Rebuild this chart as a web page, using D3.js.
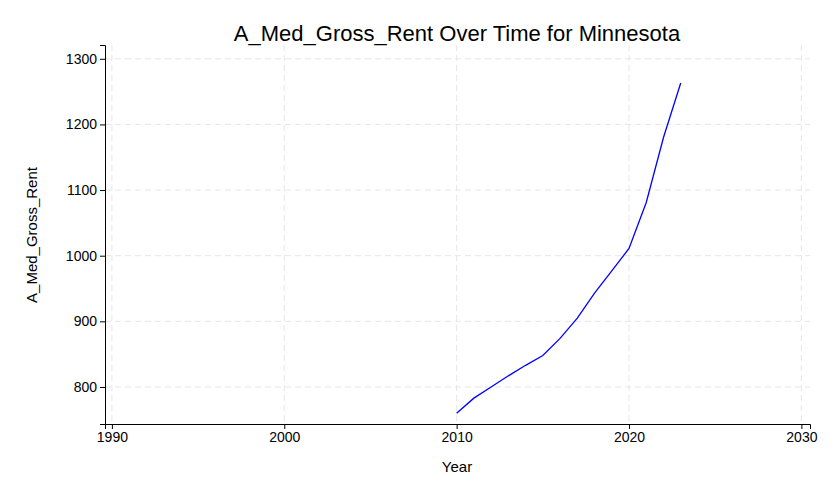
<!DOCTYPE html>
<html><head><meta charset="utf-8">
<script src="https://cdn.jsdelivr.net/npm/d3@7"></script>
<style>body{margin:0;background:#fff}text{font-family:Arial,"Liberation Sans",sans-serif}</style>
</head><body>
<svg id="c" width="831" height="498"></svg>
<script>
const years=[2010,2011,2012,2013,2014,2015,2016,2017,2018,2019,2020,2021,2022,2023];
const rent=[760,783,800,817,833,848,874,905,943,977,1011,1081,1180,1263];
const xTicks=[1990,2000,2010,2020,2030];
const yTicks=[800,900,1000,1100,1200,1300];
const svg=d3.select("#c");
const L=105,R=810,T=45,B=424;
const x=d3.scaleLinear().domain([1989.6,2030.5]).range([L,R]);
const y=d3.scaleLinear().domain([743.6,1321]).range([B,T]);
const g=svg.append("g");
g.selectAll(".gx").data(xTicks).join("line").attr("x1",d=>x(d)).attr("x2",d=>x(d)).attr("y1",T).attr("y2",B)
 .attr("stroke","#e6e6e6").attr("stroke-dasharray","6,4");
g.selectAll(".gy").data(yTicks).join("line").attr("y1",d=>y(d)).attr("y2",d=>y(d)).attr("x1",L).attr("x2",R)
 .attr("stroke","#e6e6e6").attr("stroke-dasharray","6,4");
const xa=svg.append("g").attr("transform",`translate(0,${B})`).call(d3.axisBottom(x).tickValues(xTicks).tickFormat(d3.format("d")).tickSizeOuter(0).tickSize(5));
const ya=svg.append("g").attr("transform",`translate(${L},0)`).call(d3.axisLeft(y).tickValues(yTicks).tickFormat(d3.format("d")).tickSizeOuter(0).tickSize(5));
[xa,ya].forEach(a=>{a.selectAll("text").attr("font-size",14).attr("fill","#000");a.select(".domain").attr("stroke","#000");a.selectAll(".tick line").attr("stroke","#000");});
svg.append("path").datum(years.map((d,i)=>[d,rent[i]])).attr("fill","none").attr("stroke","#0000ff").attr("stroke-width",1.3)
 .attr("d",d3.line().x(d=>x(d[0])).y(d=>y(d[1])));
svg.append("text").attr("x",457).attr("y",41).attr("text-anchor","middle").attr("font-size",22).text("A_Med_Gross_Rent Over Time for Minnesota");
svg.append("text").attr("x",457).attr("y",472).attr("text-anchor","middle").attr("font-size",15).text("Year");
svg.append("text").attr("transform","translate(37,235) rotate(-90)").attr("text-anchor","middle").attr("font-size",15).text("A_Med_Gross_Rent");
</script>
</body></html>
